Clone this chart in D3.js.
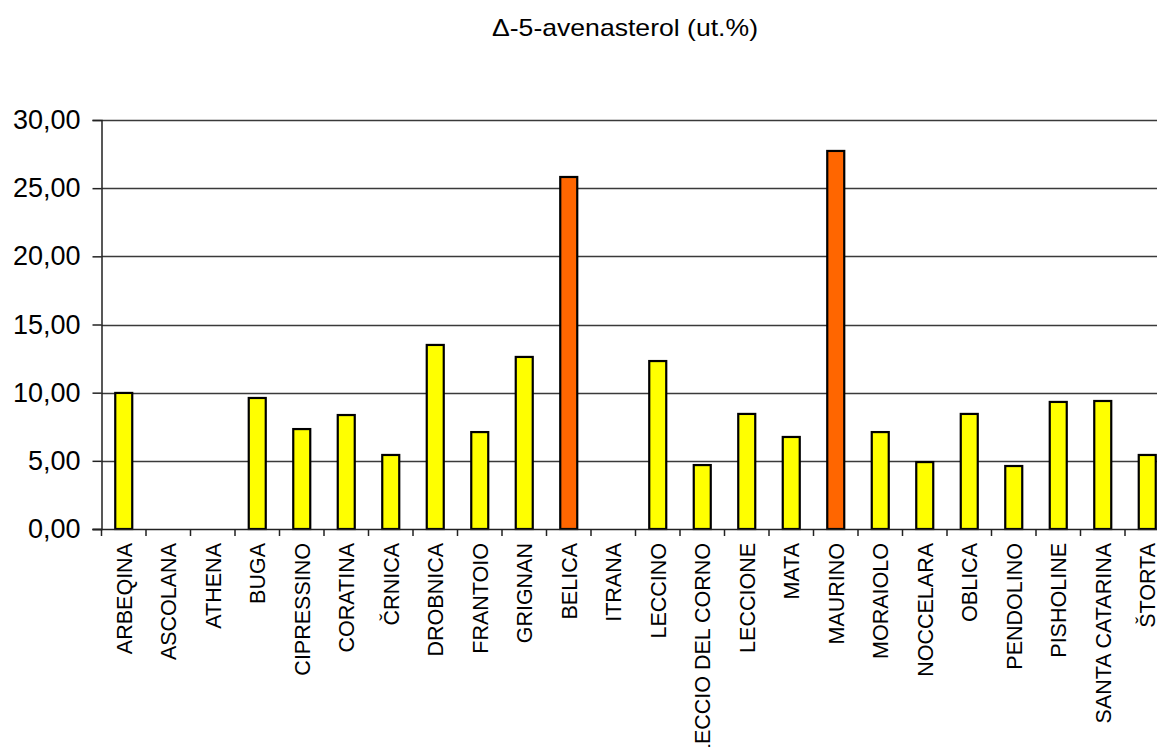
<!DOCTYPE html>
<html>
<head>
<meta charset="utf-8">
<script src="https://cdn.jsdelivr.net/npm/d3@7"></script>
<style>
  html, body { margin: 0; padding: 0; background: #fff; overflow: hidden; }
  svg { display: block; }
  text { font-family: Arial, "Liberation Sans", sans-serif; fill: #000; }
</style>
</head>
<body>
<svg id="chart" width="1157" height="747"></svg>
<script>
// Olive cultivars and their Δ-5-avenasterol share (ut.%)
const cultivars = ["ARBEQINA", "ASCOLANA", "ATHENA", "BUGA", "CIPRESSINO", "CORATINA",
  "ČRNICA", "DROBNICA", "FRANTOIO", "GRIGNAN", "BELICA", "ITRANA", "LECCINO",
  "LECCIO DEL CORNO", "LECCIONE", "MATA", "MAURINO", "MORAIOLO", "NOCCELARA",
  "OBLICA", "PENDOLINO", "PISHOLINE", "SANTA CATARINA", "ŠTORTA"];
const avenasterol = [9.98, 0, 0, 9.61, 7.33, 8.36, 5.43, 13.50, 7.11, 12.62, 25.82, 0,
  12.32, 4.69, 8.44, 6.75, 27.73, 7.11, 4.91, 8.44, 4.62, 9.32, 9.39, 5.43];
// Cultivars drawn in the highlight colour
const highlighted = ["BELICA", "MAURINO"];
const yTicks = [0, 5, 10, 15, 20, 25, 30];
const chartTitle = "Δ-5-avenasterol (ut.%)";

const svg = d3.select("#chart");
const plotLeft = 101.5, plotTop = 120, plotBottom = 529;
const step = 44.5;
const plotRight = plotLeft + step * cultivars.length;

const x = d3.scaleBand().domain(cultivars).range([plotLeft, plotRight]).padding(0);
const y = d3.scaleLinear().domain([0, 30]).range([plotBottom, plotTop]);
const fmt = v => d3.format(".2f")(v).replace(".", ",");

// Title
svg.append("text")
  .attr("x", 625).attr("y", 36)
  .attr("text-anchor", "middle")
  .style("font-size", "24px")
  .attr("textLength", 266)
  .attr("lengthAdjust", "spacingAndGlyphs")
  .text(chartTitle);

// Horizontal gridlines
svg.append("g")
  .selectAll("line")
  .data(yTicks.filter(d => d > 0))
  .join("line")
  .attr("x1", plotLeft).attr("x2", 1160)
  .attr("y1", d => Math.round(y(d)) + 0.5).attr("y2", d => Math.round(y(d)) + 0.5)
  .attr("stroke", "#3a3a3a").attr("stroke-width", 1.5);

// Y axis
const yAxis = svg.append("g")
  .attr("transform", `translate(${plotLeft},0)`)
  .call(d3.axisLeft(y).tickValues(yTicks).tickFormat(fmt).tickSize(9).tickPadding(12));
yAxis.select(".domain").attr("stroke", "#222").attr("stroke-width", 1.5);
yAxis.selectAll(".tick line").attr("stroke", "#222").attr("stroke-width", 1.5);
yAxis.selectAll(".tick text")
  .style("font-size", "27px")
  .style("font-family", "Arial, 'Liberation Sans', sans-serif")
  .attr("fill", "#111");

// Bars
const barW = 17;
svg.append("g")
  .selectAll("rect")
  .data(cultivars.map((c, i) => ({ c, v: avenasterol[i] })).filter(d => d.v > 0))
  .join("rect")
  .attr("x", d => x(d.c) + x.bandwidth() / 2 - barW / 2)
  .attr("y", d => y(d.v))
  .attr("width", barW)
  .attr("height", d => y(0) - y(d.v))
  .attr("fill", d => highlighted.includes(d.c) ? "#FF6600" : "#FFFF00")
  .attr("stroke", "#000").attr("stroke-width", 2.2);

// X axis with ticks between categories
const xAxis = svg.append("g").attr("transform", `translate(0,${plotBottom})`);
xAxis.append("line")
  .attr("x1", plotLeft - 9).attr("x2", 1160)
  .attr("y1", 0.5).attr("y2", 0.5)
  .attr("stroke", "#222").attr("stroke-width", 1.5);
xAxis.selectAll("line.tk")
  .data(cultivars)
  .join("line")
  .attr("class", "tk")
  .attr("x1", d => x(d)).attr("x2", d => x(d))
  .attr("y1", 0).attr("y2", 7)
  .attr("stroke", "#222").attr("stroke-width", 1.5);

// Rotated category labels
svg.append("g")
  .selectAll("text")
  .data(cultivars)
  .join("text")
  .attr("transform", d => `translate(${x(d) + x.bandwidth() / 2},543) rotate(-90)`)
  .attr("text-anchor", "end")
  .attr("dy", "0.36em")
  .style("font-size", "21.5px")
  .attr("fill", "#111")
  .text(d => d);
</script>
</body>
</html>
